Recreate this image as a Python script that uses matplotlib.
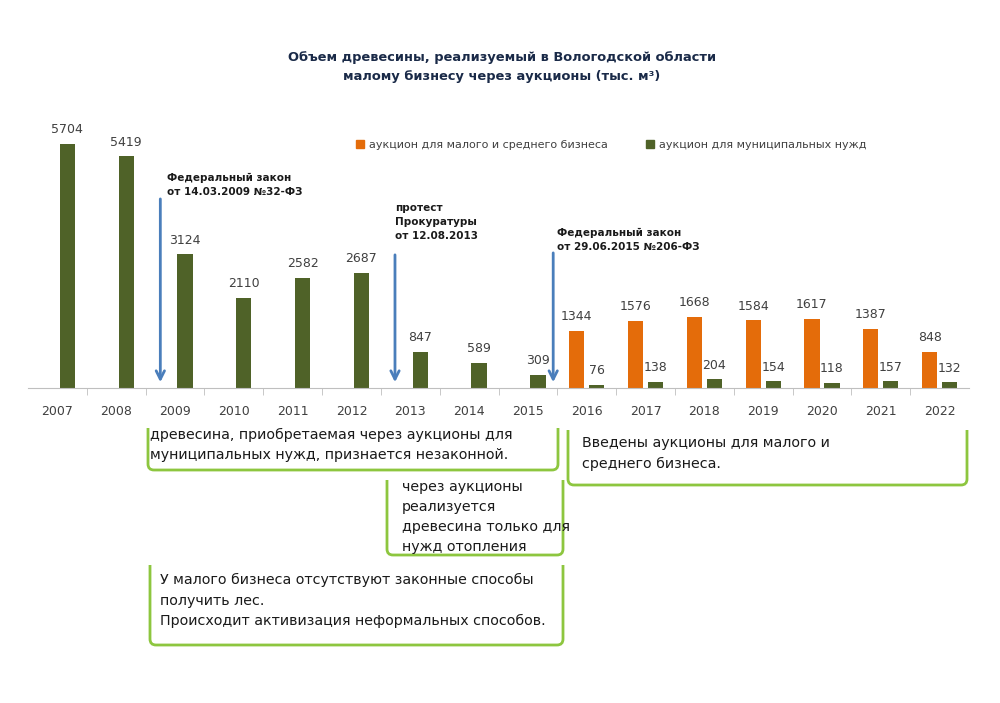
import matplotlib
matplotlib.use('Agg')
import numpy as np
import matplotlib.pyplot as plt
from matplotlib.path import Path
from matplotlib.patches import PathPatch, Patch

# data
years = ['2007', '2008', '2009', '2010', '2011', '2012', '2013', '2014',
         '2015', '2016', '2017', '2018', '2019', '2020', '2021', '2022']
municipal = [5704, 5419, 3124, 2110, 2582, 2687, 847, 589, 309,
             76, 138, 204, 154, 118, 157, 132]
small_biz = [np.nan] * 9 + [1344, 1576, 1668, 1584, 1617, 1387, 848]

label_small = 'аукцион для малого и среднего бизнеса'
label_muni = 'аукцион для муниципальных нужд'
title = 'Объем древесины, реализуемый в Вологодской области\nмалому бизнесу через аукционы (тыс. м³)'

events = [
    (1.75, 'Федеральный закон\nот 14.03.2009 №32-ФЗ'),
    (5.74, 'протест\nПрокуратуры\nот 12.08.2013'),
    (8.43, 'Федеральный закон\nот 29.06.2015 №206-ФЗ'),
]

notes = [
    'древесина, приобретаемая через аукционы для\nмуниципальных нужд, признается незаконной.',
    'Введены аукционы для малого и\nсреднего бизнеса.',
    'через аукционы\nреализуется\nдревесина только для\nнужд отопления',
    'У малого бизнеса отсутствуют законные способы\nполучить лес.\nПроисходит активизация неформальных способов.',
]

ORANGE = '#e46c0a'
GREEN = '#4f6228'
BLUE = '#4a7ebb'
LIME = '#8dc63f'

W, H = 1000, 703
fig = plt.figure(figsize=(10, 7.03), dpi=100)
ax = fig.add_axes([28 / W, 1 - 388 / H, 941 / W, 278 / H])

x = np.arange(len(years))
bw = 0.26
ax.bar(x - 0.17, small_biz, bw, color=ORANGE, label=label_small)
ax.bar(x + 0.17, municipal, bw, color=GREEN, label=label_muni)

for i, v in enumerate(municipal):
    ax.text(i + 0.17, v + 180, str(v), ha='center', va='bottom', fontsize=9, color='#404040')
for i, v in enumerate(small_biz):
    if not np.isnan(v):
        ax.text(i - 0.17, v + 180, str(int(v)), ha='center', va='bottom', fontsize=9, color='#404040')

ax.set_xlim(-0.5, 15.5)
ax.set_ylim(0, 6500)
ax.set_yticks([])
ax.set_xticks(x)
ax.set_xticklabels(years, fontsize=9, color='#404040')
ax.tick_params(axis='x', which='major', length=0, pad=12)
ax.set_xticks(np.arange(0.5, 15.5, 1), minor=True)
ax.tick_params(axis='x', which='minor', length=5, color='#bfbfbf', direction='out')
for s in ['top', 'right', 'left']:
    ax.spines[s].set_visible(False)
ax.spines['bottom'].set_color('#bfbfbf')

# arrows for the law changes
arrow_tops = [4486, 3178, 3224]
text_tops = [5023, 4322, 3738]
text_dx = [0.12, 0.0, 0.06]
for (ex, txt), at, tt, dx in zip(events, arrow_tops, text_tops, text_dx):
    ax.annotate('', xy=(ex, 70), xytext=(ex, at),
                arrowprops=dict(arrowstyle='->,head_length=0.6,head_width=0.3',
                                color=BLUE, lw=2), annotation_clip=False)
    ax.text(ex + dx, tt, txt, ha='left', va='top', fontsize=7.5, fontweight='bold',
            color='#1a1a1a', linespacing=1.5, clip_on=False)

fig.text(0.502, 1 - 67 / H, title, ha='center', va='center', fontsize=9.4,
         fontweight='bold', color='#1a2a48', linespacing=1.6)

handles = [Patch(color=ORANGE), Patch(color=GREEN)]
fig.legend(handles, [label_small, label_muni], loc='center left',
           bbox_to_anchor=(346 / W, 1 - 145 / H), ncol=2, frameon=False,
           fontsize=8, handlelength=0.7, handleheight=0.7, handletextpad=0.5,
           columnspacing=3.4, labelcolor='#404040')


def bracket(x0, x1, y0, y1, r=6):
    # open-topped box with rounded bottom corners, pixel coords
    pts = [(x0, y0), (x0, y1 - r), (x0, y1), (x0 + r, y1), (x1 - r, y1), (x1, y1),
           (x1, y1 - r), (x1, y0)]
    codes = [Path.MOVETO, Path.LINETO, Path.CURVE3, Path.CURVE3, Path.LINETO,
             Path.CURVE3, Path.CURVE3, Path.LINETO]
    verts = [(px / W, 1 - py / H) for px, py in pts]
    fig.add_artist(PathPatch(Path(verts, codes), transform=fig.transFigure,
                             fill=False, edgecolor=LIME, lw=2))


boxes = [(148, 558, 428, 470), (568, 967, 430, 485), (387, 563, 480, 555), (150, 563, 565, 645)]
text_pos = [(150, 428), (582, 436), (402, 480), (160, 573)]
spacing = [1.5, 1.65, 1.55, 1.6]
for (bx0, bx1, by0, by1), (tx, ty), note, ls in zip(boxes, text_pos, notes, spacing):
    bracket(bx0, bx1, by0, by1)
    fig.text(tx / W, 1 - ty / H, note, ha='left', va='top', fontsize=10.3,
             color='#1a1a1a', linespacing=ls)

fig.savefig('out.png', dpi=100, facecolor='white')
